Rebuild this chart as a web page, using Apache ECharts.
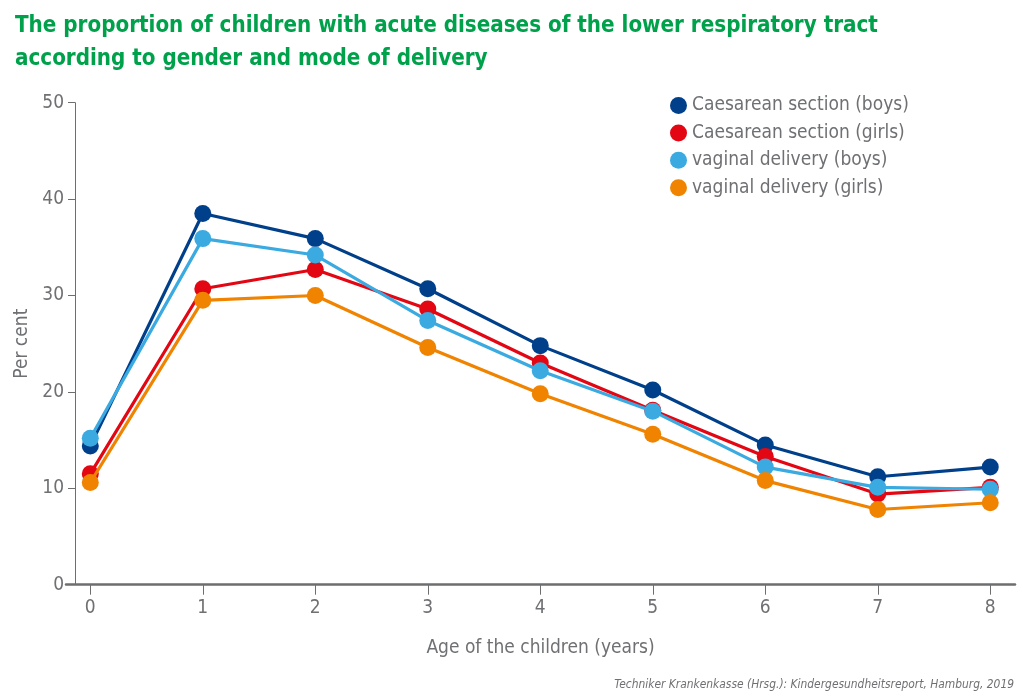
<!DOCTYPE html>
<html>
<head>
<meta charset="utf-8">
<script src="https://cdn.jsdelivr.net/npm/echarts@6/dist/echarts.min.js"></script>
<style>
html,body{margin:0;padding:0;background:#fff;}
#c{width:1023px;height:698px;}
</style>
</head>
<body>
<div id="c"></div>
<script>
const ages = [0, 1, 2, 3, 4, 5, 6, 7, 8];
const seriesNames = ['Caesarean section (boys)', 'Caesarean section (girls)', 'vaginal delivery (boys)', 'vaginal delivery (girls)'];
const caesareanBoys  = [14.4, 38.5, 35.9, 30.7, 24.8, 20.2, 14.5, 11.2, 12.2];
const caesareanGirls = [11.5, 30.7, 32.7, 28.6, 23.0, 18.1, 13.3, 9.4, 10.1];
const vaginalBoys    = [15.2, 35.9, 34.2, 27.4, 22.2, 18.0, 12.2, 10.1, 9.9];
const vaginalGirls   = [10.6, 29.5, 30.0, 24.6, 19.8, 15.6, 10.8, 7.8, 8.5];
const yTicks = [0, 10, 20, 30, 40, 50];
const colors = ['#003f8a', '#e30613', '#3aaae1', '#f08300'];

const FONT = '"Liberation Sans Narrow", "DejaVu Sans Condensed", "Roboto", sans-serif';
const GRAY = '#6f7073';

const allData = [caesareanBoys, caesareanGirls, vaginalBoys, vaginalGirls];
const chart = echarts.init(document.getElementById('c'), null, {renderer: 'canvas'});
chart.setOption({
  animation: false,
  backgroundColor: '#fff',
  textStyle: {fontFamily: FONT},
  title: [{
    text: 'The proportion of children with acute diseases of the lower respiratory tract\naccording to gender and mode of delivery',
    left: 10, top: 5,
    textStyle: {color: '#00a14b', fontFamily: FONT, fontWeight: 'bold', fontSize: 22.2, lineHeight: 33}
  }, {
    text: 'Techniker Krankenkasse (Hrsg.): Kindergesundheitsreport, Hamburg, 2019',
    right: 4, top: 674,
    textStyle: {color: GRAY, fontFamily: FONT, fontStyle: 'italic', fontWeight: 'normal', fontSize: 11.9}
  }],
  legend: {
    orient: 'vertical',
    left: 665, top: 91,
    itemWidth: 17, itemHeight: 17, itemGap: 8.4,
    icon: 'circle',
    data: seriesNames,
    textStyle: {color: GRAY, fontFamily: FONT, fontSize: 19, padding: [0, 0, 0, 0]}
  },
  grid: {left: 66, right: 8, top: 102.7, bottom: 113.3},
  xAxis: {
    type: 'value',
    min: -0.216, max: 8.22,
    name: 'Age of the children (years)',
    nameLocation: 'middle',
    nameGap: 54,
    nameTextStyle: {color: GRAY, fontSize: 19, fontFamily: FONT},
    axisLine: {onZero: false, lineStyle: {color: '#6d6e70', width: 2.5}},
    axisTick: {show: true, length: 10, lineStyle: {color: '#6d6e70', width: 1}, customValues: ages},
    axisLabel: {color: GRAY, fontSize: 19, fontFamily: FONT, margin: 14, customValues: ages},
    splitLine: {show: false}
  },
  yAxis: {
    type: 'value',
    min: 0, max: 50, interval: 10,
    offset: -9,
    name: 'Per cent',
    nameLocation: 'middle',
    nameGap: 37,
    nameTextStyle: {color: GRAY, fontSize: 19, fontFamily: FONT},
    axisLine: {show: true, onZero: false, lineStyle: {color: '#6d6e70', width: 1}},
    axisTick: {show: true, length: 7, lineStyle: {color: '#6d6e70', width: 1}},
    axisLabel: {color: GRAY, fontSize: 19, fontFamily: FONT, margin: 11},
    splitLine: {show: false}
  },
  series: allData.map((d, i) => ({
    name: seriesNames[i],
    type: 'line',
    data: d.map((v, j) => [ages[j], v]),
    symbol: 'circle',
    symbolSize: 17,
    lineStyle: {color: colors[i], width: 3.2},
    itemStyle: {color: colors[i]},
    z: 2 + i
  }))
});
</script>
</body>
</html>
